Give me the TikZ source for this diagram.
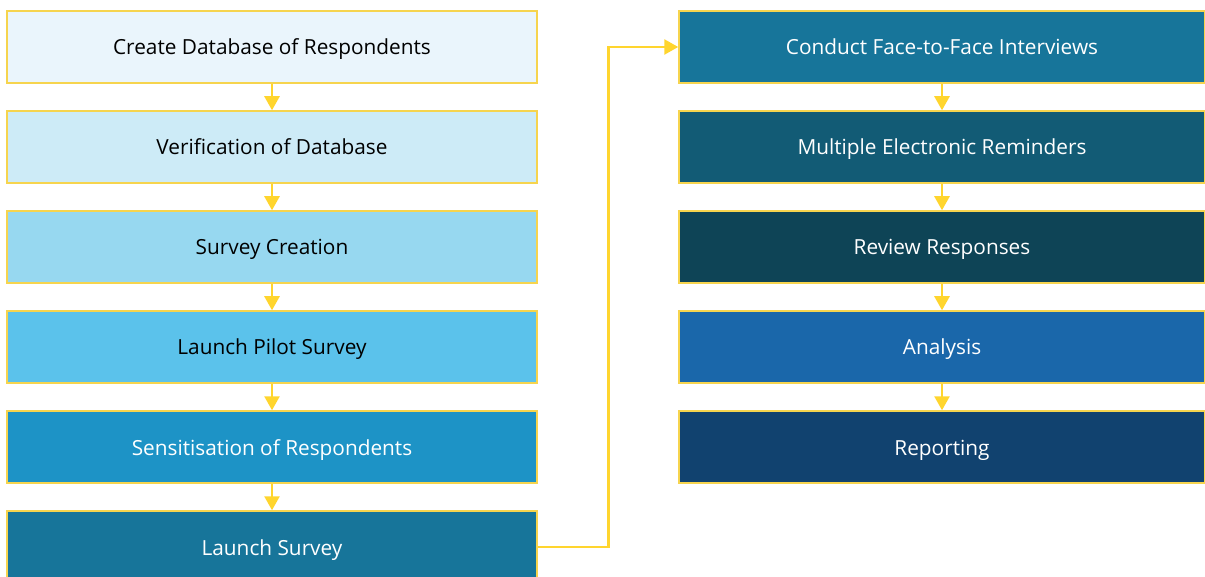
\documentclass[tikz,border=0pt]{standalone}
\usepackage{fontspec}
\setmainfont{Open Sans}
\usetikzlibrary{arrows.meta}
\definecolor{bA}{HTML}{EAF5FC}
\definecolor{bB}{HTML}{CDEBF7}
\definecolor{bC}{HTML}{97D8F0}
\definecolor{bD}{HTML}{5BC2EB}
\definecolor{bE}{HTML}{1D93C6}
\definecolor{bF}{HTML}{17759A}
\definecolor{rB}{HTML}{125B75}
\definecolor{rC}{HTML}{0E4456}
\definecolor{rD}{HTML}{1A67AA}
\definecolor{rE}{HTML}{11426F}
\definecolor{ylw}{HTML}{FFD52E}
\definecolor{edge}{HTML}{F6D44E}
\begin{document}
\begin{tikzpicture}[x=1pt,y=-1pt,
  box/.style={draw=edge,line width=1.5pt,minimum width=530pt,minimum height=72pt,inner sep=0pt,text height=20pt,text depth=4pt,font=\fontsize{20.8}{24}\selectfont},
  rbox/.style={box,minimum width=526pt},
  flow/.style={draw=ylw,line width=2.6pt,-{Triangle[length=14pt,width=15pt]}}]
\path[use as bounding box] (0,0) rectangle (1205,577);
\clip (0,0) rectangle (1205,577);
\node[box,fill=bA,text=black] (l1) at (272,47) {Create Database of Respondents};
\node[box,fill=bB,text=black] (l2) at (272,147) {Verification of Database};
\node[box,fill=bC,text=black] (l3) at (272,247) {Survey Creation};
\node[box,fill=bD,text=black] (l4) at (272,347) {Launch Pilot Survey};
\node[box,fill=bE,text=white] (l5) at (272,447) {Sensitisation of Respondents};
\node[box,fill=bF,text=white] (l6) at (272,547) {Launch Survey};
\node[rbox,fill=bF,text=white] (r1) at (942,47) {Conduct Face-to-Face Interviews};
\node[rbox,fill=rB,text=white] (r2) at (942,147) {Multiple Electronic Reminders};
\node[rbox,fill=rC,text=white] (r3) at (942,247) {Review Responses};
\node[rbox,fill=rD,text=white] (r4) at (942,347) {Analysis};
\node[rbox,fill=rE,text=white] (r5) at (942,447) {Reporting};
\draw[flow] (l1) -- (l2);
\draw[flow] (l2) -- (l3);
\draw[flow] (l3) -- (l4);
\draw[flow] (l4) -- (l5);
\draw[flow] (l5) -- (l6);
\draw[flow] (r1) -- (r2);
\draw[flow] (r2) -- (r3);
\draw[flow] (r3) -- (r4);
\draw[flow] (r4) -- (r5);
\draw[flow] (l6.east) -- ++(71,0) |- (r1.west);
\end{tikzpicture}
\end{document}
